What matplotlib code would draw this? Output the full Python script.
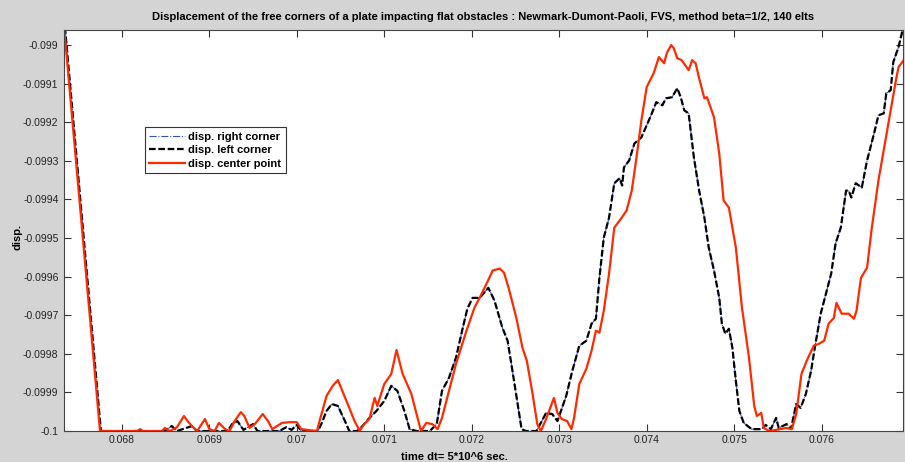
import numpy as np
import matplotlib
matplotlib.use('Agg')
import matplotlib.pyplot as plt

plt.rcParams['font.family'] = ['Liberation Sans', 'DejaVu Sans']

# left corner (right corner is the same curve)
t_left = [0.06734, 0.06776, 0.06849, 0.06857, 0.06863, 0.06880, 0.06886, 0.06921, 0.06926, 0.06932,
          0.06939, 0.06950, 0.06955, 0.06980, 0.06988, 0.06994, 0.07000, 0.07005, 0.07024, 0.07028,
          0.07034, 0.07040, 0.07047, 0.07055, 0.07060, 0.07069, 0.07075, 0.07083, 0.07091, 0.07100,
          0.07108, 0.07115, 0.07123, 0.07129, 0.07137, 0.07152, 0.07160, 0.07166, 0.07174, 0.07182,
          0.07189, 0.07195, 0.07201, 0.07209, 0.07214, 0.07219, 0.07226, 0.07235, 0.07241, 0.07246,
          0.07252, 0.07257, 0.07262, 0.07274, 0.07279, 0.07285, 0.07292, 0.07298, 0.07302, 0.07308,
          0.07315, 0.07323, 0.07331, 0.07337, 0.07342, 0.07346, 0.07351, 0.07357, 0.07363, 0.07369,
          0.07372, 0.07374, 0.07380, 0.07386, 0.07394, 0.07399, 0.07405, 0.07411, 0.07418, 0.07422,
          0.07429, 0.07435, 0.07439, 0.07443, 0.07448, 0.07454, 0.07460, 0.07466, 0.07471, 0.07477,
          0.07483, 0.07486, 0.07490, 0.07494, 0.07498, 0.07502, 0.07506, 0.07511, 0.07520, 0.07532,
          0.07536, 0.07542, 0.07548, 0.07551, 0.07560, 0.07565, 0.07571, 0.07576, 0.07582, 0.07588,
          0.07593, 0.07599, 0.07605, 0.07611, 0.07616, 0.07622, 0.07628, 0.07631, 0.07634, 0.07639,
          0.07646, 0.07652, 0.07660, 0.07665, 0.07671, 0.07674, 0.07679, 0.07682, 0.07688, 0.07694]
d_left = [-0.098930, -0.1, -0.1, -0.099987, -0.1, -0.099987, -0.1, -0.1, -0.099982, -0.099974,
          -0.099997, -0.099982, -0.1, -0.1, -0.099990, -0.099997, -0.099984, -0.1, -0.1, -0.099982,
          -0.099948, -0.099930, -0.099935, -0.099974, -0.1, -0.1, -0.099987, -0.099966, -0.099948, -0.099922,
          -0.099883, -0.099896, -0.099948, -0.099995, -0.1, -0.1, -0.099982, -0.099896, -0.099862, -0.099810,
          -0.099740, -0.099683, -0.099655, -0.099655, -0.099642, -0.099629, -0.099662, -0.099732, -0.099766, -0.099836,
          -0.099922, -0.099995, -0.1, -0.1, -0.099979, -0.099953, -0.099956, -0.099974, -0.099948, -0.099909,
          -0.099844, -0.099779, -0.099766, -0.099722, -0.099709, -0.099603, -0.099499, -0.099447, -0.099358, -0.099345,
          -0.099364, -0.099317, -0.099299, -0.099255, -0.099239, -0.099213, -0.099182, -0.099148, -0.099156, -0.099138,
          -0.099135, -0.099112, -0.099135, -0.099169, -0.099177, -0.099291, -0.099377, -0.099447, -0.099525, -0.099584,
          -0.099655, -0.099722, -0.099748, -0.099735, -0.099784, -0.099870, -0.099948, -0.099979, -0.099995, -0.099995,
          -0.099984, -0.099995, -0.099966, -0.099992, -0.099982, -0.099995, -0.099930, -0.099940, -0.099904, -0.099844,
          -0.099774, -0.099696, -0.099644, -0.099592, -0.099514, -0.099473, -0.099377, -0.099377, -0.099395, -0.099358,
          -0.099369, -0.099299, -0.099229, -0.099182, -0.099177, -0.099125, -0.099117, -0.099044, -0.099005, -0.098948]

# center point
t_center = [0.06733, 0.06775, 0.06817, 0.06821, 0.06824, 0.06846, 0.06849, 0.06855, 0.06863, 0.06871,
            0.06875, 0.06880, 0.06886, 0.06895, 0.06900, 0.06906, 0.06911, 0.06918, 0.06923, 0.06929,
            0.06936, 0.06940, 0.06946, 0.06952, 0.06961, 0.06967, 0.06972, 0.06983, 0.06992, 0.07000,
            0.07005, 0.07023, 0.07026, 0.07034, 0.07041, 0.07047, 0.07052, 0.07060, 0.07066, 0.07072,
            0.07077, 0.07083, 0.07089, 0.07092, 0.07100, 0.07108, 0.07114, 0.07121, 0.07131, 0.07137,
            0.07142, 0.07148, 0.07155, 0.07161, 0.07166, 0.07174, 0.07182, 0.07194, 0.07203, 0.07209,
            0.07217, 0.07224, 0.07232, 0.07237, 0.07243, 0.07251, 0.07258, 0.07263, 0.07269, 0.07275,
            0.07279, 0.07285, 0.07294, 0.07298, 0.07303, 0.07309, 0.07314, 0.07317, 0.07323, 0.07331,
            0.07337, 0.07342, 0.07346, 0.07351, 0.07357, 0.07363, 0.07369, 0.07377, 0.07383, 0.07389,
            0.07394, 0.07400, 0.07408, 0.07414, 0.07420, 0.07423, 0.07428, 0.07431, 0.07435, 0.07440,
            0.07448, 0.07452, 0.07456, 0.07460, 0.07466, 0.07469, 0.07477, 0.07483, 0.07488, 0.07494,
            0.07502, 0.07509, 0.07517, 0.07523, 0.07526, 0.07531, 0.07534, 0.07540, 0.07553, 0.07559,
            0.07566, 0.07571, 0.07577, 0.07583, 0.07591, 0.07597, 0.07603, 0.07608, 0.07614, 0.07617,
            0.07623, 0.07631, 0.07637, 0.07640, 0.07645, 0.07652, 0.07657, 0.07665, 0.07673, 0.07679,
            0.07685, 0.07688, 0.07694]
d_center = [-0.098930, -0.1, -0.1, -0.099995, -0.1, -0.1, -0.099992, -0.1, -0.099990, -0.099961,
            -0.099974, -0.099987, -0.1, -0.099969, -0.099995, -0.1, -0.099979, -0.099995, -0.1, -0.099974,
            -0.099951, -0.099961, -0.099992, -0.099982, -0.099956, -0.099974, -0.099995, -0.099979, -0.099977, -0.099977,
            -0.099995, -0.1, -0.099974, -0.099909, -0.099883, -0.099868, -0.099896, -0.099940, -0.099974, -0.1,
            -0.099982, -0.099969, -0.099914, -0.099935, -0.099878, -0.099852, -0.099790, -0.099852, -0.099904, -0.099956,
            -0.1, -0.099979, -0.099982, -0.099995, -0.099966, -0.099896, -0.099826, -0.099740, -0.099681, -0.099655,
            -0.099618, -0.099584, -0.099579, -0.099590, -0.099636, -0.099707, -0.099784, -0.099818, -0.099896, -0.099982,
            -0.1, -0.099969, -0.099914, -0.099953, -0.099969, -0.099974, -0.099995, -0.099966, -0.099878, -0.099839,
            -0.099792, -0.099740, -0.099745, -0.099688, -0.099592, -0.099473, -0.099455, -0.099429, -0.099377, -0.099281,
            -0.099195, -0.099109, -0.099073, -0.099031, -0.099047, -0.099021, -0.099000, -0.099008, -0.099034, -0.099039,
            -0.099065, -0.099039, -0.099047, -0.099086, -0.099138, -0.099135, -0.099187, -0.099281, -0.099403, -0.099421,
            -0.099525, -0.099681, -0.099810, -0.099935, -0.099961, -0.099953, -0.099992, -0.1, -0.099995, -0.099992,
            -0.099995, -0.099956, -0.099852, -0.099818, -0.099779, -0.099774, -0.099766, -0.099722, -0.099707, -0.099668,
            -0.099696, -0.099696, -0.099709, -0.099688, -0.099603, -0.099577, -0.099481, -0.099351, -0.099247, -0.099169,
            -0.099091, -0.099057, -0.099039]

xticks = [0.068, 0.069, 0.070, 0.071, 0.072, 0.073, 0.074, 0.075, 0.076]
xticklabels = ['0.068', '0.069', '0.07', '0.071', '0.072', '0.073', '0.074', '0.075', '0.076']
yticks = [-0.1, -0.0999, -0.0998, -0.0997, -0.0996, -0.0995, -0.0994, -0.0993, -0.0992, -0.0991, -0.099]
yticklabels = ['-0.1', '-0.0999', '-0.0998', '-0.0997', '-0.0996', '-0.0995', '-0.0994',
               '-0.0993', '-0.0992', '-0.0991', '-0.099']

fig = plt.figure(figsize=(9.05, 4.62), dpi=100, facecolor='#d4d4d4')
ax = fig.add_axes([0.0707, 0.067, 0.927, 0.868])

ax.plot(t_left, d_left, color='#3050d0', linestyle='-.', linewidth=0.8, label='disp. right corner')
ax.plot(t_left, d_left, color='black', linestyle=(0, (3, 1.2)), linewidth=1.6, label='disp. left corner')
ax.plot(t_center, d_center, color='#ff2a00', linestyle='-', linewidth=1.6, label='disp. center point')

ax.set_xlim(0.067338, 0.07693)
ax.set_ylim(-0.1, -0.098961)
ax.set_xticks(xticks)
ax.set_xticklabels(xticklabels)
ax.set_yticks(yticks)
ax.set_yticklabels(yticklabels)
ax.tick_params(direction='in', top=True, right=True, length=5, width=0.8,
               labelsize=7.5, colors='#333333', labelcolor='#222222', pad=4)
ax.tick_params(axis='x', pad=3)
for s in ax.spines.values():
    s.set_color('#444444')
    s.set_linewidth(0.8)

ax.set_title('Displacement of the free corners of a plate impacting flat obstacles : Newmark-Dumont-Paoli, FVS, method beta=1/2, 140 elts',
             fontsize=8, fontweight='bold', pad=7)
ax.set_xlabel('time dt= 5*10^6 sec.', fontsize=8, fontweight='bold')
ax.xaxis.set_label_coords(0.465, -0.052)
ax.set_ylabel('disp.', fontsize=8, fontweight='bold')
ax.yaxis.set_label_coords(-0.049, 0.484)

leg = ax.legend(loc='upper left', bbox_to_anchor=(0.0965, 0.757), fancybox=False,
                framealpha=1, edgecolor='#333333', handlelength=3.2, handletextpad=0.3,
                borderpad=0.4, labelspacing=0.3, borderaxespad=0,
                prop={'size': 8, 'weight': 'bold'})
leg.get_frame().set_linewidth(0.8)

plt.savefig('out.png', dpi=100, facecolor=fig.get_facecolor())
